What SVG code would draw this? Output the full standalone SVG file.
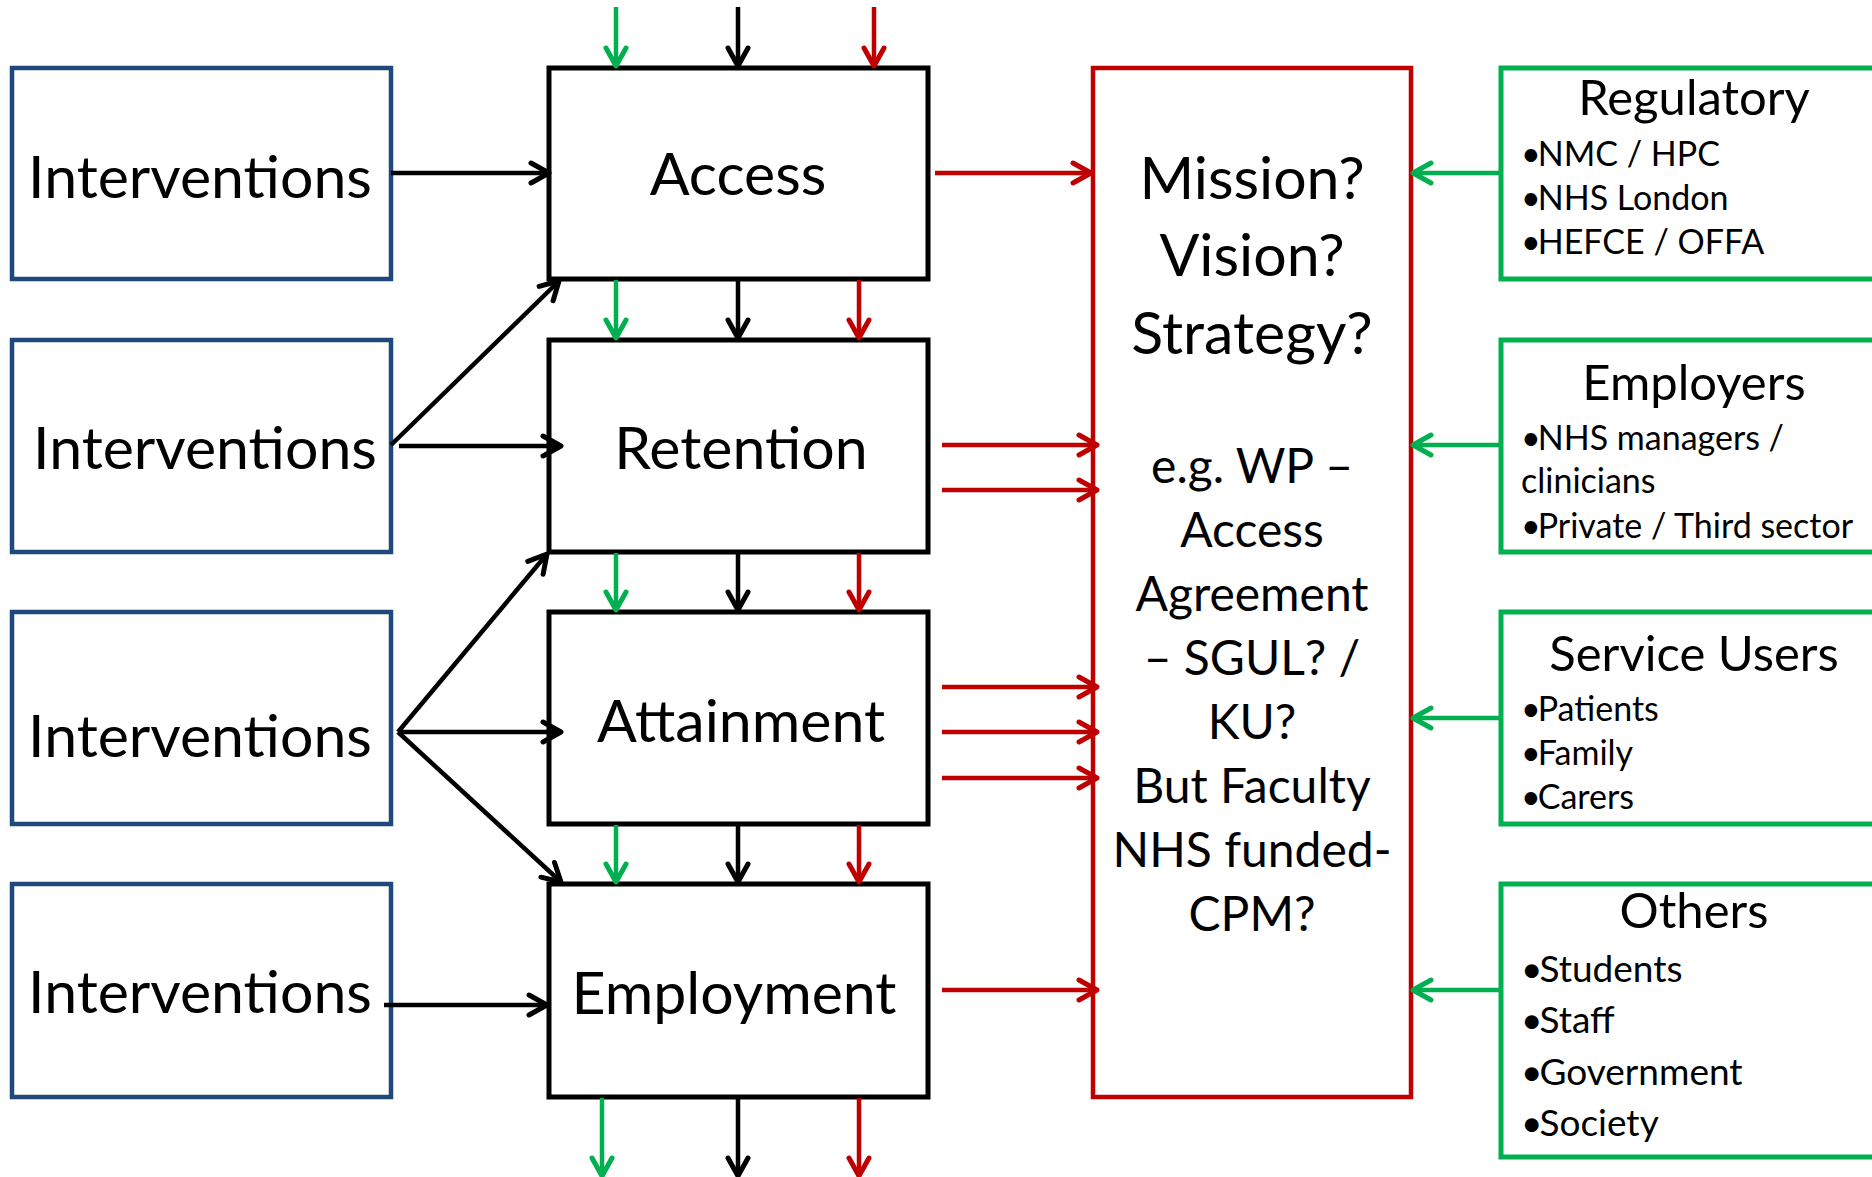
<svg xmlns="http://www.w3.org/2000/svg" width="1872" height="1177" viewBox="0 0 1872 1177">
  <style>
    .bg { fill: #ffffff; }
    .int { fill: #ffffff; stroke: #1F497D; stroke-width: 4.5; }
    .stage { fill: #ffffff; stroke: #000000; stroke-width: 5; }
    .goal { fill: #ffffff; stroke: #C00000; stroke-width: 4.5; }
    .stake { fill: #ffffff; stroke: #00B050; stroke-width: 5; }
    .lbl { font-family: Lato, "Liberation Sans", sans-serif; fill: #000000; }
    .big { font-size: 59px; text-anchor: middle; }
    .goalTop { font-size: 59px; text-anchor: middle; }
    .goalSub { font-size: 48px; text-anchor: middle; }
    .title { font-size: 49px; text-anchor: middle; }
    .item { font-size: 34px; }
    .itemL { font-size: 37px; }
    .k { stroke: #000000; stroke-width: 4.5; fill: none; marker-end: url(#ahK); }
    .g { stroke: #00B050; stroke-width: 4.5; fill: none; marker-end: url(#ahG); }
    .r { stroke: #C00000; stroke-width: 4.5; fill: none; marker-end: url(#ahR); }
  </style>
  <defs>
    <marker id="ahK" markerUnits="userSpaceOnUse" orient="auto" overflow="visible" markerWidth="1" markerHeight="1" refX="0" refY="0">
      <path d="M-18,-10 L0,0 L-18,10" fill="none" stroke="#000000" stroke-width="5" stroke-linecap="round" stroke-linejoin="round"/>
    </marker>
    <marker id="ahG" markerUnits="userSpaceOnUse" orient="auto" overflow="visible" markerWidth="1" markerHeight="1" refX="0" refY="0">
      <path d="M-18,-10 L0,0 L-18,10" fill="none" stroke="#00B050" stroke-width="5" stroke-linecap="round" stroke-linejoin="round"/>
    </marker>
    <marker id="ahR" markerUnits="userSpaceOnUse" orient="auto" overflow="visible" markerWidth="1" markerHeight="1" refX="0" refY="0">
      <path d="M-18,-10 L0,0 L-18,10" fill="none" stroke="#C00000" stroke-width="5" stroke-linecap="round" stroke-linejoin="round"/>
    </marker>
  </defs>

  <rect class="bg" x="0" y="0" width="1872" height="1177"/>

  <!-- Intervention boxes (left column) -->
  <g id="interventions-1">
    <rect class="int" x="12" y="68" width="379" height="211"/>
    <text class="lbl big" x="200" y="197.5">Interventions</text>
  </g>
  <g id="interventions-2">
    <rect class="int" x="12" y="340" width="379" height="212"/>
    <text class="lbl big" x="205" y="469">Interventions</text>
  </g>
  <g id="interventions-3">
    <rect class="int" x="12" y="612" width="379" height="212"/>
    <text class="lbl big" x="200" y="757">Interventions</text>
  </g>
  <g id="interventions-4">
    <rect class="int" x="12" y="884" width="379" height="213"/>
    <text class="lbl big" x="200" y="1013">Interventions</text>
  </g>

  <!-- Student journey stages (centre column) -->
  <g id="access">
    <rect class="stage" x="549" y="68" width="379" height="211"/>
    <text class="lbl big" x="738" y="194.5">Access</text>
  </g>
  <g id="retention">
    <rect class="stage" x="549" y="340" width="379" height="212"/>
    <text class="lbl big" x="741" y="469">Retention</text>
  </g>
  <g id="attainment">
    <rect class="stage" x="549" y="612" width="379" height="212"/>
    <text class="lbl big" x="741" y="742">Attainment</text>
  </g>
  <g id="employment">
    <rect class="stage" x="549" y="884" width="379" height="213"/>
    <text class="lbl big" x="734" y="1014">Employment</text>
  </g>

  <!-- Mission / vision / strategy -->
  <g id="strategy">
    <rect class="goal" x="1093" y="68" width="318" height="1029"/>
    <text class="lbl goalTop" x="1252" y="199.4">Mission?</text>
    <text class="lbl goalTop" x="1252" y="276">Vision?</text>
    <text class="lbl goalTop" x="1252" y="353.7">Strategy?</text>
    <text class="lbl goalSub" x="1252" y="482.7">e.g. WP –</text>
    <text class="lbl goalSub" x="1252" y="546.7">Access</text>
    <text class="lbl goalSub" x="1252" y="610.7">Agreement</text>
    <text class="lbl goalSub" x="1252" y="674.7">– SGUL? /</text>
    <text class="lbl goalSub" x="1252" y="738.7">KU?</text>
    <text class="lbl goalSub" x="1252" y="802.7">But Faculty</text>
    <text class="lbl goalSub" x="1252" y="866.7">NHS funded-</text>
    <text class="lbl goalSub" x="1252" y="930.7">CPM?</text>
  </g>

  <!-- Stakeholder boxes (right column) -->
  <g id="regulatory">
    <rect class="stake" x="1501" y="68" width="420" height="211"/>
    <text class="lbl title" x="1694" y="114.7">Regulatory</text>
    <text class="lbl item" x="1521" y="165.5">•<tspan dx="-3">NMC / HPC</tspan></text>
    <text class="lbl item" x="1521" y="209.5">•<tspan dx="-3">NHS London</tspan></text>
    <text class="lbl item" x="1521" y="254">•<tspan dx="-3">HEFCE / OFFA</tspan></text>
  </g>
  <g id="employers">
    <rect class="stake" x="1501" y="340" width="420" height="212"/>
    <text class="lbl title" x="1694" y="400">Employers</text>
    <text class="lbl item" x="1521" y="449.6">•<tspan dx="-3">NHS managers /</tspan></text>
    <text class="lbl item" x="1521" y="492.9">clinicians</text>
    <text class="lbl item" x="1521" y="538">•<tspan dx="-3">Private / Third sector</tspan></text>
  </g>
  <g id="service-users">
    <rect class="stake" x="1501" y="612" width="420" height="212"/>
    <text class="lbl title" x="1694" y="671.4">Service Users</text>
    <text class="lbl item" x="1521" y="721">•<tspan dx="-3">Patients</tspan></text>
    <text class="lbl item" x="1521" y="764.7">•<tspan dx="-3">Family</tspan></text>
    <text class="lbl item" x="1521" y="808.5">•<tspan dx="-3">Carers</tspan></text>
  </g>
  <g id="others">
    <rect class="stake" x="1501" y="884" width="420" height="273"/>
    <text class="lbl title" x="1694" y="928.4">Others</text>
    <text class="lbl itemL" x="1521" y="981.7">•<tspan dx="-3">Students</tspan></text>
    <text class="lbl itemL" x="1521" y="1033">•<tspan dx="-3">Staff</tspan></text>
    <text class="lbl itemL" x="1521" y="1084.6">•<tspan dx="-3">Government</tspan></text>
    <text class="lbl itemL" x="1521" y="1136">•<tspan dx="-3">Society</tspan></text>
  </g>

  <!-- Connectors -->
  <g id="connectors">
    <!-- interventions into stages -->
    <line class="k" x1="391" y1="173" x2="549" y2="173"/>
    <line class="k" x1="391" y1="445" x2="559" y2="281"/>
    <line class="k" x1="399" y1="446" x2="561" y2="446"/>
    <line class="k" x1="398" y1="732" x2="547" y2="554"/>
    <line class="k" x1="398" y1="732" x2="561" y2="732"/>
    <line class="k" x1="398" y1="732" x2="561" y2="882"/>
    <line class="k" x1="384" y1="1005" x2="547" y2="1005"/>

    <!-- flows down the stage column -->
    <line class="g" x1="616" y1="7" x2="616" y2="66"/>
    <line class="k" x1="738" y1="7" x2="738" y2="66"/>
    <line class="r" x1="874" y1="7" x2="874" y2="66"/>

    <line class="g" x1="616" y1="280" x2="616" y2="338"/>
    <line class="k" x1="738" y1="280" x2="738" y2="338"/>
    <line class="r" x1="859" y1="280" x2="859" y2="338"/>

    <line class="g" x1="616" y1="553" x2="616" y2="610"/>
    <line class="k" x1="738" y1="553" x2="738" y2="610"/>
    <line class="r" x1="859" y1="553" x2="859" y2="610"/>

    <line class="g" x1="616" y1="825" x2="616" y2="882"/>
    <line class="k" x1="738" y1="825" x2="738" y2="882"/>
    <line class="r" x1="859" y1="825" x2="859" y2="882"/>

    <line class="g" x1="602" y1="1098" x2="602" y2="1176"/>
    <line class="k" x1="738" y1="1098" x2="738" y2="1176"/>
    <line class="r" x1="859" y1="1098" x2="859" y2="1176"/>

    <!-- stages into strategy -->
    <line class="r" x1="935" y1="173" x2="1091" y2="173"/>
    <line class="r" x1="942" y1="445" x2="1097" y2="445"/>
    <line class="r" x1="942" y1="490" x2="1097" y2="490"/>
    <line class="r" x1="942" y1="687" x2="1097" y2="687"/>
    <line class="r" x1="942" y1="732" x2="1097" y2="732"/>
    <line class="r" x1="942" y1="778" x2="1097" y2="778"/>
    <line class="r" x1="942" y1="990" x2="1097" y2="990"/>

    <!-- stakeholders into strategy -->
    <line class="g" x1="1500" y1="173" x2="1413" y2="173"/>
    <line class="g" x1="1500" y1="445" x2="1413" y2="445"/>
    <line class="g" x1="1500" y1="718" x2="1413" y2="718"/>
    <line class="g" x1="1500" y1="990" x2="1413" y2="990"/>
  </g>
</svg>
